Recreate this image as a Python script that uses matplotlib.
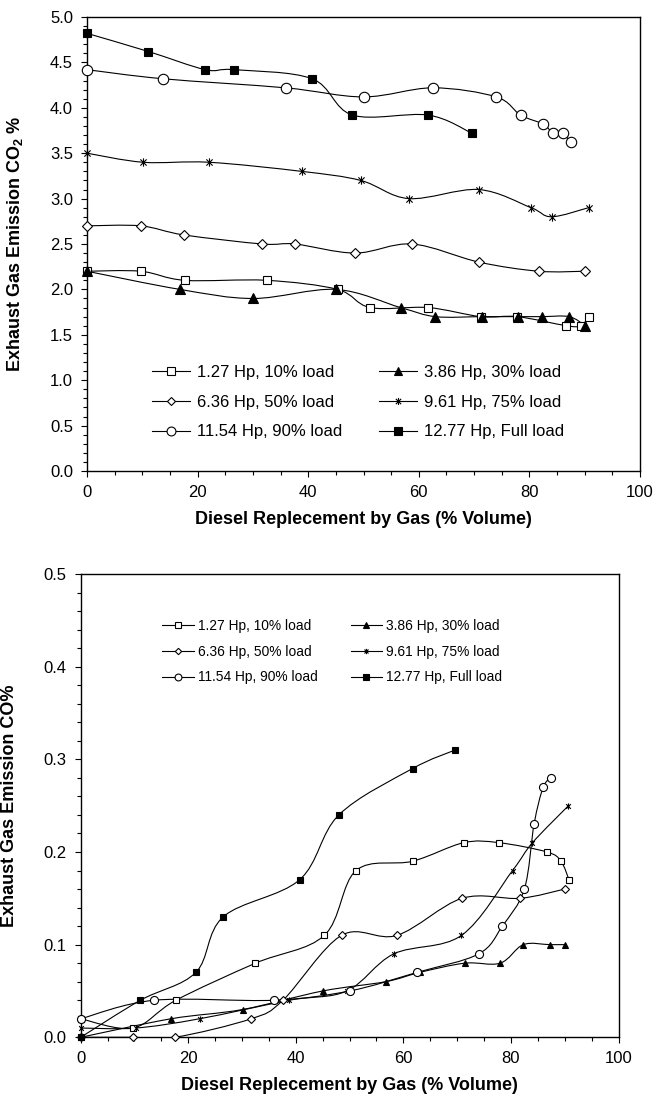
import numpy as np
import matplotlib
matplotlib.use("Agg")
import matplotlib.pyplot as plt
from matplotlib.path import Path
from matplotlib.patches import PathPatch
from matplotlib.lines import Line2D
from matplotlib.ticker import MultipleLocator, FormatStrFormatter

plt.rcParams['font.family'] = ['Liberation Sans', 'DejaVu Sans']
plt.rcParams['mathtext.fontset'] = 'custom'
plt.rcParams['mathtext.rm'] = 'Liberation Sans'
plt.rcParams['mathtext.bf'] = 'Liberation Sans:bold'

# Datos
#--------------------------------------
labels = ["1.27 Hp, 10% load", "3.86 Hp, 30% load", "6.36 Hp, 50% load",
          "9.61 Hp, 75% load", "11.54 Hp, 90% load", "12.77 Hp, Full load"]

x_127 = [0, 9.7, 17.7, 32.5, 45.3, 51.2, 61.7, 71.2, 77.8, 86.7, 89.3, 90.8]
co2_127 = [2.2, 2.2, 2.1, 2.1, 2.0, 1.8, 1.8, 1.7, 1.7, 1.6, 1.6, 1.7]
co_127 = [0.02, 0.01, 0.04, 0.08, 0.11, 0.18, 0.19, 0.21, 0.21, 0.20, 0.19, 0.17]

x_386 = [0, 16.8, 30.1, 45.0, 56.7, 63.0, 71.4, 78.0, 82.3, 87.2, 90.1]
co2_386 = [2.2, 2.0, 1.9, 2.0, 1.8, 1.7, 1.7, 1.7, 1.7, 1.7, 1.6]
co_386 = [0.0, 0.02, 0.03, 0.05, 0.06, 0.07, 0.08, 0.08, 0.10, 0.10, 0.10]

x_636 = [0, 9.7, 17.5, 31.7, 37.6, 48.5, 58.8, 70.9, 81.7, 90.0]
co2_636 = [2.7, 2.7, 2.6, 2.5, 2.5, 2.4, 2.5, 2.3, 2.2, 2.2]
co_636 = [0.0, 0.0, 0.0, 0.02, 0.04, 0.11, 0.11, 0.15, 0.15, 0.16]

x_961 = [0, 10.2, 22.1, 38.8, 49.5, 58.2, 70.8, 80.3, 84.0, 90.7]
co2_961 = [3.5, 3.4, 3.4, 3.3, 3.2, 3.0, 3.1, 2.9, 2.8, 2.9]
co_961 = [0.01, 0.01, 0.02, 0.04, 0.05, 0.09, 0.11, 0.18, 0.21, 0.25]

x_1154 = [0, 13.7, 35.9, 50.0, 62.5, 74.0, 78.4, 82.5, 84.3, 86.0, 87.5]
co2_1154 = [4.42, 4.32, 4.22, 4.12, 4.22, 4.12, 3.92, 3.82, 3.72, 3.72, 3.62]
co_1154 = [0.02, 0.04, 0.04, 0.05, 0.07, 0.09, 0.12, 0.16, 0.23, 0.27, 0.28]

x_1277 = [0, 11.1, 21.4, 26.5, 40.7, 48.0, 61.7, 69.6]
co2_1277 = [4.82, 4.62, 4.42, 4.42, 4.32, 3.92, 3.92, 3.72]
co_1277 = [0.0, 0.04, 0.07, 0.13, 0.17, 0.24, 0.29, 0.31]

xs = [x_127, x_386, x_636, x_961, x_1154, x_1277]
co2 = [co2_127, co2_386, co2_636, co2_961, co2_1154, co2_1277]
co = [co_127, co_386, co_636, co_961, co_1154, co_1277]
#--------------------------------------

# asterisco tipo Excel
star = Path([(0, -1), (0, 1), (-0.75, -0.75), (0.75, 0.75), (-0.75, 0.75), (0.75, -0.75)],
            [Path.MOVETO, Path.LINETO, Path.MOVETO, Path.LINETO, Path.MOVETO, Path.LINETO])

markers = ['s', '^', 'D', star, 'o', 's']
faces = ['white', 'black', 'white', 'black', 'white', 'black']
msize_top = [6.0, 6.5, 4.8, 6.0, 7.5, 6.0]
msize_bot = [4.5, 5.0, 3.8, 4.5, 5.8, 4.8]


def smooth_path(x, y):
    # linea suavizada como la de Excel (bezier tipo catmull-rom)
    pts = np.column_stack([x, y]).astype(float)
    n = len(pts)
    verts = [pts[0]]
    codes = [Path.MOVETO]
    for i in range(n - 1):
        p0 = pts[max(i - 1, 0)]
        p1 = pts[i]
        p2 = pts[i + 1]
        p3 = pts[min(i + 2, n - 1)]
        verts += [p1 + (p2 - p0) / 6.0, p2 - (p3 - p1) / 6.0, p2]
        codes += [Path.CURVE4] * 3
    return Path(verts, codes)


def draw(ax, ydata, msizes, legsize, legpos, lspace, hlen, hpad, cspace):
    for i in range(6):
        ax.add_patch(PathPatch(smooth_path(xs[i], ydata[i]), facecolor='none',
                               edgecolor='black', lw=0.8, zorder=2))
        ax.plot(xs[i], ydata[i], ls='none', marker=markers[i], ms=msizes[i],
                mfc=faces[i], mec='black', mew=0.8, zorder=3, clip_on=False)
    handles = [Line2D([], [], color='black', lw=0.8, marker=markers[i], ms=msizes[i] * 0.85,
                      mfc=faces[i], mec='black', mew=0.8) for i in range(6)]
    order = [0, 2, 4, 1, 3, 5]
    ax.legend([handles[i] for i in order], [labels[i] for i in order], ncol=2,
              loc='upper left', bbox_to_anchor=legpos, bbox_transform=ax.figure.transFigure,
              frameon=False, fontsize=legsize, borderpad=0, borderaxespad=0,
              labelspacing=lspace, handlelength=hlen, handletextpad=hpad,
              columnspacing=cspace, numpoints=1)
    ax.set_xlim(0, 100)
    ax.xaxis.set_major_locator(MultipleLocator(20))
    ax.xaxis.set_minor_locator(MultipleLocator(5))
    ax.tick_params(which='major', direction='out', length=4, width=0.8, labelsize=12, pad=6)
    ax.tick_params(which='minor', direction='out', length=3, width=0.8)
    for s in ax.spines.values():
        s.set_linewidth(1.0)
    ax.set_xlabel('Diesel Replecement by Gas (% Volume)', fontsize=13, fontweight='bold', labelpad=8)


fig = plt.figure(figsize=(6.57, 11.06), dpi=100)

# grafico superior CO2
ax1 = fig.add_axes([87 / 657, 1 - 471 / 1106, 553 / 657, 454 / 1106])
draw(ax1, co2, msize_top, 12, (152 / 657, 1 - 365 / 1106), 0.88, 2.3, 0.4, 2.2)
ax1.set_ylim(0, 5)
ax1.yaxis.set_major_locator(MultipleLocator(0.5))
ax1.yaxis.set_minor_locator(MultipleLocator(0.1))
ax1.yaxis.set_major_formatter(FormatStrFormatter('%.1f'))
ax1.set_ylabel(r'Exhaust Gas Emission CO$_\mathbf{2}$ %', fontsize=13, fontweight='bold')
ax1.yaxis.set_label_coords(-0.112, 0.5)

# grafico inferior CO
ax2 = fig.add_axes([80.7 / 657, 1 - 1037.3 / 1106, 537.8 / 657, 463.3 / 1106])
draw(ax2, co, msize_bot, 9.9, (162 / 657, 1 - 619 / 1106), 0.85, 2.3, 0.3, 2.4)
ax2.set_ylim(0, 0.5)
ax2.yaxis.set_major_locator(MultipleLocator(0.1))
ax2.yaxis.set_minor_locator(MultipleLocator(0.02))
ax2.yaxis.set_major_formatter(FormatStrFormatter('%.1f'))
ax2.set_ylabel('Exhaust Gas Emission CO%', fontsize=13, fontweight='bold')
ax2.yaxis.set_label_coords(-0.1166, 0.5)

fig.savefig('out.png', dpi=100)
